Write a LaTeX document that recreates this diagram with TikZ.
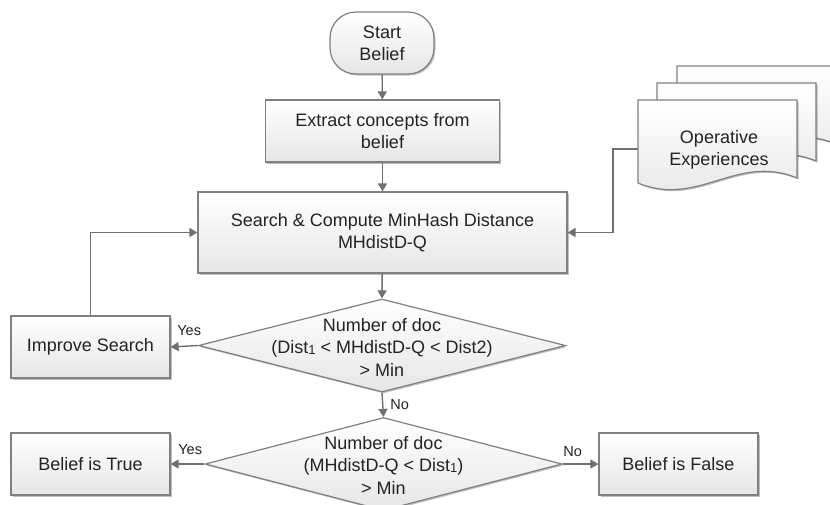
\documentclass[tikz,border=0pt]{standalone}
\usepackage{fontspec}
\setmainfont{Liberation Sans}
\usetikzlibrary{arrows.meta,shapes.geometric,shadows}
\definecolor{linegray}{RGB}{112,112,112}
\definecolor{bordergray}{RGB}{128,128,128}
\definecolor{txt}{RGB}{35,35,35}
\definecolor{fillbot}{RGB}{230,230,230}
\newcommand\docpage[2]{%
  \path[docstyle] ({#1},{#2}) -- ({#1+159},{#2}) -- ({#1+159},{#2+78})
    .. controls +(-60,-25) and +(60,25) .. ({#1},{#2+83}) -- cycle;}
\begin{document}
\begin{tikzpicture}[x=1pt,y=-1pt,
  base/.style={draw=bordergray, line width=1.2pt, top color=white, bottom color=fillbot,
    drop shadow={shadow xshift=1.5pt,shadow yshift=-1.5pt,opacity=0.25,fill=black},
    text=txt, font=\fontsize{18}{22}\selectfont, align=center, inner sep=0pt},
  procbox/.style={base, rectangle, minimum width=#1, minimum height=62pt},
  startbox/.style={base, rectangle, rounded corners=26pt, minimum width=104pt, minimum height=62pt},
  decbox/.style={base, diamond, minimum width=#1, minimum height=93pt},
  docstyle/.style={draw=bordergray, line width=1.2pt, top color=white, bottom color=fillbot,
    drop shadow={shadow xshift=1.5pt,shadow yshift=-1.5pt,opacity=0.25,fill=black}},
  txtnode/.style={text=txt, font=\fontsize{18}{22.5}\selectfont, align=center, inner sep=0pt},
  lbl/.style={text=txt, font=\fontsize{14.5}{16}\selectfont, inner sep=0pt},
  arrow/.style={draw=linegray, line width=1.4pt, -{Triangle[length=8pt,width=9pt]}},
]
\useasboundingbox (0,0) rectangle (830,504);
\clip (0,0) rectangle (830,504);
\fill[white] (0,0) rectangle (830,504);

% multi-document
\docpage{677}{66}
\docpage{657}{83}
\docpage{638}{100}
\node[txtnode] (ops) at (719,150) {Operative\\Experiences};
\coordinate (docin) at (638,149);

\node[startbox] (start) at (382,43) {Start\\Belief};
\node[procbox=234pt] (extract) at (382.5,131) {Extract concepts from\\belief};
\node[procbox=369pt, minimum height=81pt] (search) at (382.5,232.5) {Search \& Compute MinHash Distance\\MHdistD-Q};
\node[decbox=367pt] (d1) at (382,345.5) {};
\node[txtnode] (d1t) at (382,347) {Number of doc\\(Dist\raisebox{-0.5pt}{\fontsize{13}{13}\selectfont 1} < MHdistD-Q < Dist2)\\> Min};
\node[procbox=159pt] (improve) at (90.5,347) {Improve Search};
\node[decbox=357pt] (d2) at (383.5,464) {};
\node[txtnode] (d2t) at (383.5,465) {Number of doc\\(MHdistD-Q < Dist\raisebox{-0.5pt}{\fontsize{13}{13}\selectfont 1})\\> Min};
\node[procbox=159pt] (true) at (90.5,464) {Belief is True};
\node[procbox=159pt] (false) at (678.5,464) {Belief is False};

\draw[arrow] (start) -- (extract);
\draw[arrow] (extract) -- (search);
\draw[arrow] (search) -- (d1.north);
\draw[arrow] (d1.west) -- node[lbl, pos=0.32, yshift=15pt] {Yes} (improve.east);
\draw[arrow] (improve.north) |- (search.west);
\draw[arrow] (d1.south) -- node[lbl, pos=0.5, xshift=17pt] {No} (d2.north);
\draw[arrow] (d2.west) -- node[lbl, pos=0.42, yshift=14pt] {Yes} (true.east);
\draw[arrow] (d2.east) -- node[lbl, pos=0.28, yshift=12pt] {No} (false.west);
\draw[arrow] (docin) -- ++(-25,0) |- (search.east);
\end{tikzpicture}
\end{document}
